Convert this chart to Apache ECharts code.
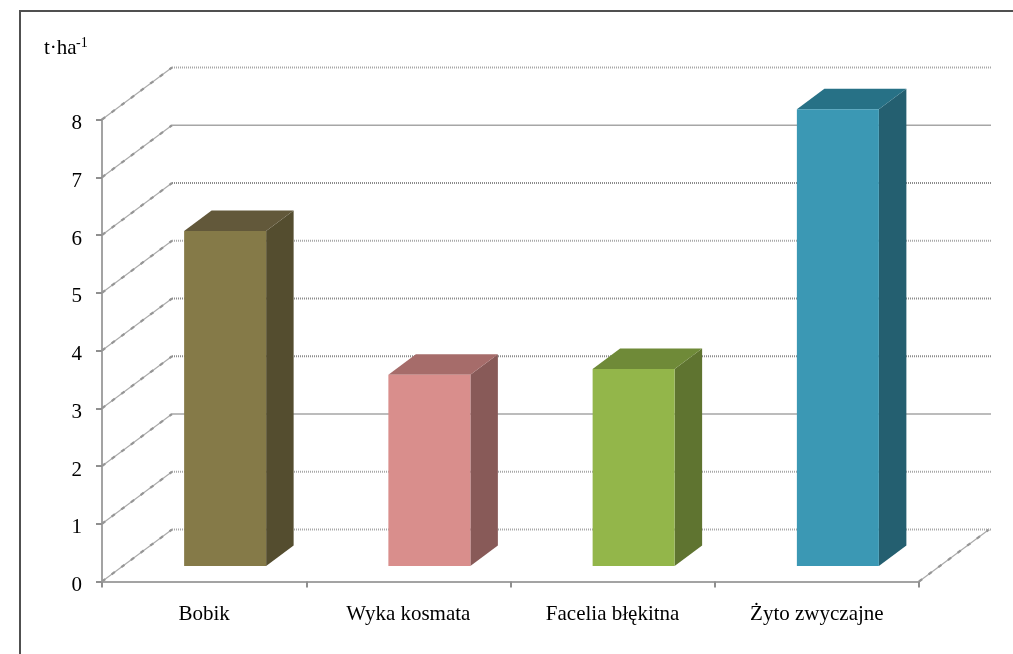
<!DOCTYPE html>
<html>
<head>
<meta charset="utf-8">
<style>html,body{margin:0;padding:0;background:#fff}#c{width:1013px;height:654px}</style>
<script src="https://cdn.jsdelivr.net/npm/echarts@6/dist/echarts.min.js"></script>
</head>
<body>
<div id="c"></div>
<script>
var categories = ['Bobik', 'Wyka kosmata', 'Facelia błękitna', 'Żyto zwyczajne'];
var values = [5.8, 3.31, 3.41, 7.91];
var yTicks = [0, 1, 2, 3, 4, 5, 6, 7, 8];
var frontColors = ['#857a48', '#d98e8c', '#93b64a', '#3b98b4'];
var topColors = ['#62583a', '#a66c6a', '#6f8a38', '#277186'];
var sideColors = ['#544d2f', '#885a58', '#5f7430', '#245f70'];
var solidWallTicks = [2, 7];
var darkWallTicks = [3, 4, 6];

var FONT = '"Liberation Serif", "Times New Roman", serif';
var WALL_DX = 70, WALL_DY = -52;
var BAR_OFF_DX = 21, BAR_OFF_DY = -15.5;
var BAR_DX = 27.5, BAR_DY = -20.5;
var BAR_W = 82;

function diagonal(x, y) {
  var shape = { x1: x, y1: y, x2: x + WALL_DX, y2: y + WALL_DY };
  return [
    { type: 'line', shape: shape, silent: true, style: { stroke: '#ababab', lineWidth: 1.2, fill: null } },
    { type: 'line', shape: shape, silent: true, style: { stroke: '#969696', lineWidth: 2.2, lineDash: [4, 8], fill: null } }
  ];
}

function renderWall(params, api) {
  var v = api.value(1);
  var cs = params.coordSys;
  var y = api.coord([0, v])[1];
  var kids = diagonal(cs.x, y);
  if (v === 0) kids = kids.concat(diagonal(cs.x + cs.width, y));
  var solid = solidWallTicks.indexOf(v) >= 0;
  var dark = darkWallTicks.indexOf(v) >= 0;
  kids.push({
    type: 'line', silent: true,
    shape: { x1: cs.x + WALL_DX, y1: y + WALL_DY, x2: cs.x + cs.width + WALL_DX + 2, y2: y + WALL_DY },
    style: {
      stroke: solid ? '#a6a6a6' : (dark ? '#8c8c8c' : '#a8a8a8'),
      lineWidth: solid ? 1.5 : 2,
      lineDash: solid ? null : [1, 1],
      fill: null
    }
  });
  return { type: 'group', children: kids };
}

function renderBar(params, api) {
  var i = api.value(0);
  var c = api.coord([i, api.value(1)]);
  var base = api.coord([i, 0]);
  var l = c[0] - BAR_W / 2 + BAR_OFF_DX, r = l + BAR_W;
  var t = c[1] + BAR_OFF_DY, b = base[1] + BAR_OFF_DY;
  return {
    type: 'group',
    children: [
      { type: 'polygon', shape: { points: [[r, t], [r + BAR_DX, t + BAR_DY], [r + BAR_DX, b + BAR_DY], [r, b]] },
        style: { fill: sideColors[i] } },
      { type: 'polygon', shape: { points: [[l, t], [l + BAR_DX, t + BAR_DY], [r + BAR_DX, t + BAR_DY], [r, t]] },
        style: { fill: topColors[i] } },
      { type: 'rect', shape: { x: l, y: t, width: BAR_W, height: b - t },
        style: { fill: frontColors[i] } }
    ]
  };
}

var chart = echarts.init(document.getElementById('c'), null, { renderer: 'canvas' });
chart.setOption({
  animation: false,
  backgroundColor: '#fff',
  grid: { left: 102, top: 119.5, width: 817, height: 462 },
  xAxis: {
    type: 'category',
    data: categories,
    axisLine: { lineStyle: { color: '#a3a3a3', width: 2 } },
    axisTick: { show: true, alignWithLabel: false, length: 6, lineStyle: { color: '#8f8f8f', width: 2 } },
    axisLabel: { color: '#000', fontFamily: FONT, fontSize: 21, margin: 22, interval: 0 },
    splitLine: { show: false }
  },
  yAxis: {
    type: 'value',
    min: 0,
    max: 8,
    interval: 1,
    axisLine: { show: true, lineStyle: { color: '#a3a3a3', width: 2 } },
    axisTick: { show: true, length: 6, lineStyle: { color: '#8f8f8f', width: 2 } },
    axisLabel: { color: '#000', fontFamily: FONT, fontSize: 21, margin: 20, verticalAlign: 'top', lineHeight: 8 },
    splitLine: { show: false }
  },
  graphic: [
    { type: 'polyline', silent: true, shape: { points: [[20, 654], [20, 11], [1013, 11]] },
      style: { stroke: '#505050', lineWidth: 2, fill: null } },
    { type: 'text', silent: true, x: 44, y: 38, style: { text: 't·ha', font: '21px ' + FONT, fill: '#000' } },
    { type: 'text', silent: true, x: 76, y: 36, style: { text: '-1', font: '14px ' + FONT, fill: '#000' } }
  ],
  series: [
    {
      type: 'custom', z: 1, clip: false, silent: true,
      renderItem: renderWall,
      encode: { x: 0, y: 1 },
      data: yTicks.map(function (t) { return [0, t]; })
    },
    {
      type: 'custom', z: 3, clip: false, silent: true,
      renderItem: renderBar,
      encode: { x: 0, y: 1 },
      data: values.map(function (v, i) { return [i, v]; })
    }
  ]
});
</script>
</body>
</html>
